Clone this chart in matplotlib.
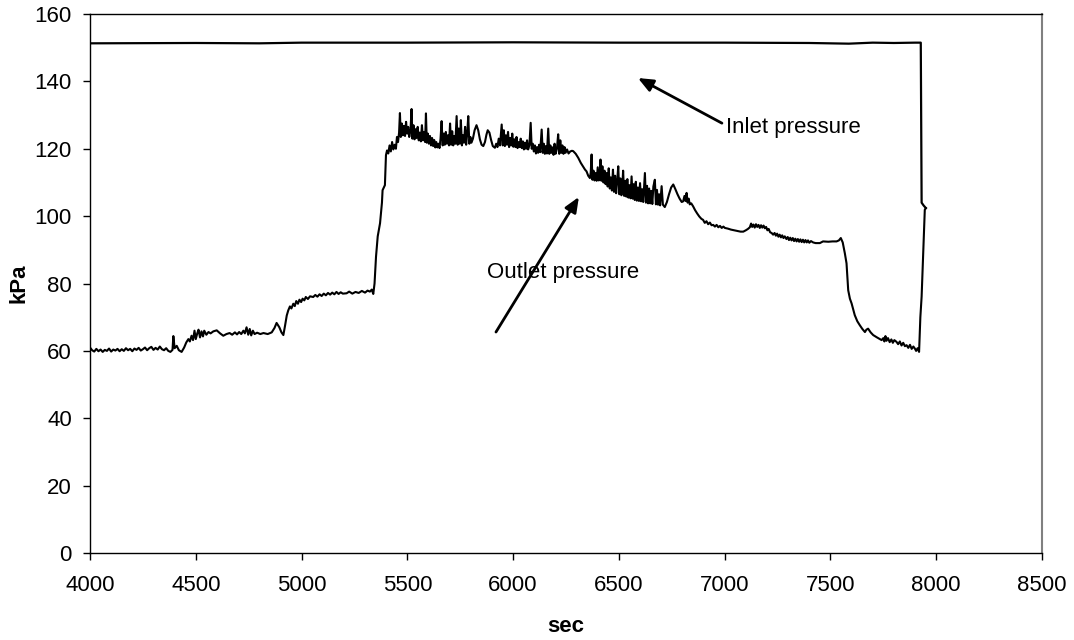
import numpy as np
import matplotlib
matplotlib.use("Agg")
import matplotlib.pyplot as plt

plt.rcParams['font.family'] = ['Liberation Sans', 'DejaVu Sans']

# outlet pressure (sec, kPa)
base_t = [4000, 4010, 4020, 4030, 4040, 4050, 4060, 4070, 4080, 4090,
          4100, 4110, 4120, 4130, 4140, 4150, 4160, 4170, 4180, 4190,
          4200, 4210, 4220, 4230, 4240, 4250, 4260, 4270, 4280, 4290,
          4300, 4310, 4320, 4330, 4340, 4350, 4360, 4370, 4380, 4390]
base_v = [61.0, 60.2, 59.8, 60.6, 59.9, 60.4, 59.7, 60.3, 60.0, 60.7,
          59.8, 60.4, 60.1, 60.6, 59.9, 60.5, 60.0, 60.8, 60.2, 60.6,
          59.9, 60.7, 60.3, 60.9, 60.1, 60.5, 61.0, 60.2, 60.8, 61.2,
          60.3, 60.9, 60.4, 61.3, 60.5, 60.2, 60.8, 60.0, 59.7, 60.3]

step_t = [4394, 4400, 4410, 4420, 4433, 4445, 4455, 4465, 4472, 4480, 4487, 4494,
          4500, 4507, 4513, 4520, 4527, 4534, 4540, 4550, 4560, 4570, 4583, 4599,
          4615, 4630, 4645, 4660, 4672, 4685, 4695, 4705, 4715, 4725, 4732, 4740,
          4748, 4755, 4762, 4770, 4778, 4790, 4805, 4820, 4840, 4859, 4872, 4882,
          4895, 4905, 4914, 4922, 4930, 4937, 4945, 4952, 4961, 4968, 4975, 4983,
          4990, 4998, 5005, 5013, 5020, 5030, 5040, 5055, 5065, 5075, 5085, 5095,
          5105, 5115, 5125, 5135, 5145, 5155, 5165, 5175, 5185, 5195, 5213, 5225,
          5240, 5255, 5270, 5285, 5300, 5312, 5323, 5332, 5339]
step_v = [64.4, 60.8, 61.5, 60.2, 59.7, 61.0, 62.5, 63.5, 62.8, 64.5, 63.2, 66.0,
          63.5, 65.2, 66.3, 64.0, 65.8, 64.3, 66.0, 64.8, 65.6, 65.2, 65.8, 66.1,
          65.2, 64.5, 65.0, 65.3, 64.8, 65.5, 64.9, 65.6, 65.0, 66.0, 65.2, 67.0,
          64.8, 66.5, 64.6, 66.0, 65.0, 65.4, 65.0, 65.3, 65.0, 65.5, 66.8, 68.3,
          67.0, 65.5, 64.7, 67.5, 70.5, 72.0, 73.2, 72.6, 74.0, 73.3, 74.8, 74.0,
          75.2, 74.5, 75.5, 75.0, 76.0, 75.4, 76.2, 76.0, 76.6, 76.1, 76.8, 76.3,
          77.0, 76.5, 77.2, 76.7, 77.3, 76.8, 77.5, 76.9, 77.4, 77.0, 77.1, 77.6,
          77.0, 77.5, 77.2, 77.8, 77.3, 77.9, 77.6, 78.2, 76.9]

high_t = [5345, 5352, 5360, 5371, 5380, 5383, 5394, 5399, 5404, 5410, 5416, 5422,
          5428, 5434, 5440, 5446, 5451, 5456, 5461, 5465, 5469, 5474, 5479, 5484,
          5489, 5494, 5499, 5504, 5509, 5515, 5520, 5524, 5529, 5534, 5539, 5544,
          5549, 5554, 5559, 5564, 5569, 5574, 5579, 5584, 5588, 5592, 5597, 5602,
          5607, 5612, 5617, 5622, 5627, 5632, 5637, 5642, 5647, 5652, 5657, 5662,
          5667, 5672, 5677, 5682, 5687, 5692, 5697, 5702, 5707, 5712, 5717, 5722,
          5727, 5733, 5738, 5743, 5748, 5753, 5758, 5763, 5768, 5773, 5778, 5783,
          5788, 5793, 5798, 5803, 5810, 5818, 5827, 5835, 5843, 5851, 5859, 5867,
          5874, 5880, 5888, 5896, 5904, 5914, 5920, 5926, 5932, 5938, 5946, 5951,
          5956, 5961, 5966, 5971, 5976, 5981, 5986, 5991, 5996, 6001, 6006, 6011,
          6016, 6021, 6026, 6031, 6036, 6041, 6046, 6051, 6056, 6061, 6066, 6071,
          6077, 6083, 6088, 6093, 6098, 6103, 6108, 6113, 6118, 6123, 6128, 6135,
          6140, 6145, 6150, 6155, 6160, 6166, 6171, 6176, 6181, 6186, 6191, 6196,
          6201, 6207, 6213, 6218, 6223, 6228, 6233, 6238, 6243, 6248, 6255, 6262,
          6270, 6278, 6284, 6296, 6308, 6320, 6330, 6340, 6347, 6355, 6363]
high_v = [80.0, 88.0, 94.0, 97.9, 104.0, 107.7, 109.2, 118.1, 119.5, 118.6, 121.0, 119.2,
          122.0, 119.8, 121.2, 120.0, 123.5, 122.0, 124.8, 130.6, 123.5, 127.5, 124.0, 126.8,
          123.8, 128.0, 124.5, 126.5, 123.5, 125.5, 131.8, 123.0, 127.0, 122.8, 125.8, 123.2,
          126.5, 122.5, 124.8, 122.2, 127.0, 122.5, 125.0, 122.0, 130.5, 121.8, 124.5, 121.5,
          123.8, 121.0, 123.2, 120.8, 122.6, 120.4, 122.0, 120.4, 121.5, 120.2, 123.0, 128.2,
          121.0, 124.5, 121.2, 125.0, 121.5, 124.0, 121.0, 127.5, 121.2, 125.2, 121.0, 123.8,
          121.5, 129.7, 121.2, 126.0, 121.5, 128.5, 121.0, 124.0, 121.8, 126.5, 121.2, 124.5,
          129.7, 121.5, 123.5, 121.8, 123.0, 125.5, 127.0, 125.5, 122.8, 121.2, 120.8, 122.0,
          124.2, 125.5, 124.8, 122.6, 120.8, 120.3, 121.5, 120.5, 123.0, 121.0, 127.2, 121.0,
          125.5, 120.8, 124.0, 121.2, 125.0, 120.5, 123.2, 121.0, 124.5, 120.6, 122.8, 120.5,
          123.5, 120.2, 122.0, 120.5, 123.0, 120.2, 122.2, 119.8, 121.8, 120.0, 122.5, 119.8,
          121.0, 127.7, 120.0, 121.5, 119.2, 121.0, 118.6, 120.5, 118.8, 121.2, 119.0, 125.7,
          118.8, 121.5, 118.5, 120.8, 118.6, 126.0, 118.5, 121.0, 118.8, 120.4, 118.2, 121.5,
          118.5, 120.0, 124.3, 118.5, 122.5, 118.8, 121.0, 118.5, 120.5, 118.8, 119.8, 118.6,
          119.2, 119.4, 119.3, 118.5, 117.3, 115.8, 114.8, 113.8, 113.3, 112.0, 111.3]

fall_t = [6367, 6371, 6375, 6380, 6385, 6390, 6395, 6400, 6405, 6410, 6413, 6417,
          6422, 6427, 6432, 6437, 6442, 6447, 6452, 6457, 6462, 6467, 6472, 6477,
          6482, 6487, 6492, 6497, 6502, 6507, 6512, 6517, 6520, 6525, 6530, 6535,
          6540, 6545, 6550, 6555, 6560, 6565, 6570, 6575, 6580, 6585, 6590, 6595,
          6600, 6605, 6610, 6615, 6623, 6628, 6633, 6638, 6643, 6648, 6653, 6658,
          6663, 6670, 6675, 6680, 6685, 6690, 6695, 6702, 6708, 6717, 6727, 6737,
          6747, 6757, 6767, 6777, 6787, 6797, 6804, 6810, 6815, 6820, 6825, 6830,
          6835, 6842, 6851, 6860, 6870, 6880, 6890, 6898, 6906, 6914, 6922, 6930,
          6938, 6946, 6954, 6962, 6970, 6978, 6986, 6994, 7001, 7015, 7030, 7045,
          7060, 7075, 7088, 7100, 7110, 7119, 7125, 7130, 7136, 7142, 7148, 7154,
          7160, 7166, 7172, 7178, 7184, 7190, 7196, 7202, 7208, 7215, 7222, 7229,
          7236, 7242, 7248, 7254, 7260, 7266, 7272, 7278, 7284, 7292, 7298, 7304,
          7310, 7316, 7322, 7328, 7334, 7340, 7346, 7352, 7358, 7364, 7370, 7376,
          7382, 7388, 7394, 7400, 7408, 7418, 7430, 7450, 7465, 7490, 7510, 7529,
          7540, 7549, 7558]
fall_v = [113.0, 118.3, 110.8, 113.5, 110.6, 112.8, 110.5, 114.5, 110.6, 113.0, 116.8, 110.5,
          114.8, 110.0, 113.5, 109.5, 112.8, 108.8, 114.2, 108.2, 111.5, 107.6, 113.8, 107.2,
          112.0, 106.8, 110.5, 114.8, 106.5, 111.2, 106.2, 109.8, 113.5, 106.0, 110.5, 105.8,
          111.0, 105.5, 109.2, 105.3, 111.8, 105.2, 109.5, 104.8, 110.2, 104.6, 108.5, 104.5,
          109.8, 104.4, 108.0, 104.2, 112.8, 104.0, 109.0, 103.8, 108.2, 103.8, 107.5, 103.6,
          108.8, 110.8, 103.5, 107.8, 103.4, 106.5, 103.2, 108.9, 103.4, 102.7, 104.2, 106.5,
          108.5, 109.4, 108.0, 106.5, 105.2, 104.2, 104.4, 106.0, 104.5, 106.9, 104.0, 105.2,
          103.5, 103.8, 102.9, 101.8, 100.8, 99.9, 99.2, 98.9, 98.0, 98.5, 97.6, 98.1,
          97.3, 97.4, 96.9, 97.4, 96.7, 97.1, 96.5, 96.9, 96.5, 96.3, 96.0, 95.8,
          95.6, 95.4, 95.4, 95.8, 96.2, 96.7, 97.8, 96.8, 97.5, 96.6, 97.6, 96.8,
          97.4, 96.5, 97.3, 96.6, 97.2, 96.4, 96.8, 95.8, 96.2, 95.2, 95.0, 94.5,
          95.0, 94.2, 94.8, 93.9, 94.5, 93.7, 94.3, 93.5, 94.0, 93.2, 93.8, 92.9,
          93.6, 92.8, 93.5, 92.6, 93.3, 92.5, 93.2, 92.4, 93.1, 92.3, 93.0, 92.2,
          92.9, 92.2, 92.8, 92.1, 92.6, 92.2, 92.0, 92.0, 92.5, 92.4, 92.5, 92.5,
          92.8, 93.5, 92.2]

end_t = [7568, 7576, 7584, 7592, 7600, 7615, 7627, 7639, 7651, 7663, 7670, 7678,
         7690, 7702, 7720, 7742, 7750, 7755, 7760, 7765, 7772, 7780, 7788, 7795,
         7802, 7812, 7820, 7828, 7836, 7844, 7852, 7860, 7868, 7876, 7884, 7892,
         7899, 7905, 7912, 7919, 7925, 7931, 7940, 7946, 7951]
end_v = [89.0, 86.0, 78.0, 75.5, 74.1, 70.6, 68.8, 67.6, 66.5, 65.6, 66.3, 66.6,
         65.5, 64.7, 64.0, 63.2, 63.8, 62.8, 64.4, 63.0, 63.8, 62.6, 63.4, 62.4,
         63.2, 62.7, 62.0, 62.8, 61.6, 62.4, 61.4, 61.7, 60.9, 61.8, 60.6, 61.3,
         60.7, 60.0, 60.8, 59.7, 70.0, 76.1, 92.0, 101.9, 102.4]

# inlet pressure
inlet_t = [4000, 4500, 4800, 5000, 5500, 6000, 6500, 7000, 7400, 7587, 7700,
           7800, 7900, 7927, 7931, 7940, 7951]
inlet_v = [151.3, 151.4, 151.3, 151.5, 151.5, 151.6, 151.5, 151.5, 151.4, 151.2, 151.5,
           151.4, 151.5, 151.5, 104.0, 103.2, 102.4]

outlet_t = np.array(base_t + step_t + high_t + fall_t + end_t)
outlet_v = np.array(base_v + step_v + high_v + fall_v + end_v)

fig = plt.figure(figsize=(10.74, 6.4), dpi=100)
ax = fig.add_axes([0.0838, 0.1359, 0.8864, 0.8422])

ax.plot(inlet_t, inlet_v, color='black', linewidth=1.6)
ax.plot(outlet_t, outlet_v, color='black', linewidth=1.5)

ax.set_xlim(4000, 8500)
ax.set_ylim(0, 160)
ax.set_xticks(np.arange(4000, 8501, 500))
ax.set_yticks(np.arange(0, 161, 20))

for side in ['left', 'bottom', 'top']:
    ax.spines[side].set_color('black')
    ax.spines[side].set_linewidth(1.0)
ax.spines['right'].set_color('#808080')
ax.spines['right'].set_linewidth(1.5)

ax.tick_params(axis='both', direction='out', length=5, width=1, labelsize=16, color='black')
ax.tick_params(axis='x', pad=11)
ax.tick_params(axis='y', pad=8)

ax.set_xlabel('sec', fontsize=16, fontweight='bold', labelpad=14)
ax.set_ylabel('kPa', fontsize=16, fontweight='bold', labelpad=4)

arrow = dict(arrowstyle='-|>,head_length=0.9,head_width=0.38', color='black',
             lw=2, mutation_scale=10, shrinkA=0, shrinkB=0)
ax.annotate('', xy=(6590, 141.0), xytext=(6987, 127.6), arrowprops=arrow)
ax.annotate('', xy=(6311, 105.7), xytext=(5919, 65.6), arrowprops=arrow)
ax.text(7006, 126.2, 'Inlet pressure', fontsize=16, ha='left', va='center')
ax.text(5876, 83.4, 'Outlet pressure', fontsize=16, ha='left', va='center')

fig.savefig('out.png', dpi=100)
